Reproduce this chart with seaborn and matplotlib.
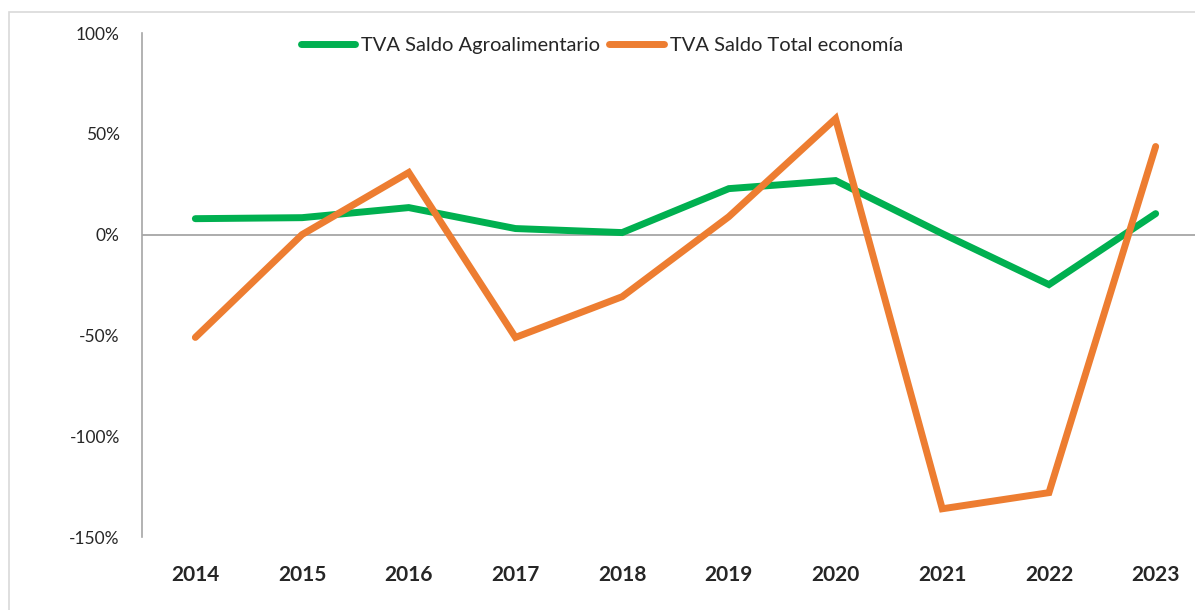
import pandas as pd
import matplotlib.pyplot as plt
import matplotlib.ticker as mticker
from matplotlib.patches import Rectangle
import seaborn as sns

years = ["2014", "2015", "2016", "2017", "2018", "2019", "2020", "2021", "2022", "2023"]
agro = [7.9, 8.4, 13.4, 3.0, 1.0, 22.8, 26.8, 0.5, -24.8, 10.4]
total = [-51.0, 0.0, 30.8, -51.0, -30.8, 8.9, 57.5, -136.0, -128.0, 43.7]
series = ["TVA Saldo Agroalimentario", "TVA Saldo Total economía"]
colors = ["#00B050", "#ED7D31"]

df = pd.DataFrame({
    "year": years * 2,
    "value": agro + total,
    "serie": [series[0]] * len(years) + [series[1]] * len(years),
})
df["x"] = df["year"].map({y: i for i, y in enumerate(years)})

sns.set_style("white")
plt.rcParams["font.family"] = ["Lato", "DejaVu Sans"]

fig = plt.figure(figsize=(11.95, 6.1), dpi=100)
ax = fig.add_axes([142 / 1195, 1 - 537 / 610, 1067 / 1195, 504 / 610])

sns.lineplot(data=df, x="x", y="value", hue="serie", palette=colors,
             linewidth=5, ax=ax, solid_capstyle="round", solid_joinstyle="miter",
             legend=True)

ax.axhline(0, color="#A6A6A6", linewidth=1.3, zorder=0)
ax.set_xlim(-0.5, 9.5)
ax.set_ylim(-150, 100)
ax.set_yticks([-150, -100, -50, 0, 50, 100])
ax.yaxis.set_major_formatter(mticker.FuncFormatter(lambda v, p: f"{v:.0f}%"))
ax.set_xticks(range(len(years)))
ax.set_xticklabels(years, fontsize=15, fontweight="bold")
ax.tick_params(axis="y", labelsize=12.5, pad=16, length=0)
ax.tick_params(axis="x", pad=20, length=0)
ax.set_xlabel("")
ax.set_ylabel("")
for s in ["top", "right", "bottom"]:
    ax.spines[s].set_visible(False)
ax.spines["left"].set_color("#A6A6A6")
ax.spines["left"].set_linewidth(1.2)

leg = ax.legend(loc="center", bbox_to_anchor=(0.431, 0.976), ncol=2,
                frameon=False, fontsize=14.5, handlelength=2.7, handletextpad=0.3,
                columnspacing=0.45)
for h in leg.get_lines():
    h.set_linewidth(5)
    h.set_solid_capstyle("round")

fig.patches.append(Rectangle((9 / 1195, -0.1), 1.2, 1 - 12 / 610 + 0.1,
                             transform=fig.transFigure, fill=False,
                             edgecolor="#D9D9D9", linewidth=1.2))

fig.savefig("out.png", dpi=100)
